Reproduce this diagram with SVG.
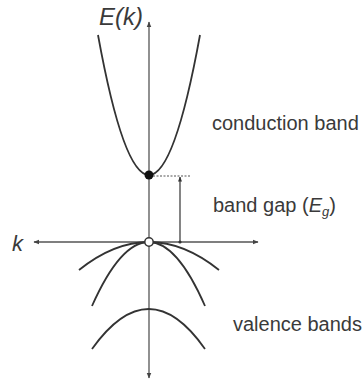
<svg xmlns="http://www.w3.org/2000/svg" width="364" height="380" viewBox="0 0 364 380">
<style>
.ax{stroke:#555;stroke-width:1.3;fill:none}
.band{stroke:#333;stroke-width:1.8;fill:none}
.lbl{font-family:"Liberation Sans",Arial,sans-serif;font-size:20px;fill:#3a3a3a}
.it{font-style:italic}
</style>
<defs>
<marker id="ah" viewBox="0 0 10 10" refX="9" refY="5" markerWidth="6" markerHeight="6" markerUnits="userSpaceOnUse" orient="auto">
<path d="M0,1 L10,5 L0,9 Z" fill="#444"/>
</marker>
<marker id="ahs" viewBox="0 0 10 10" refX="9" refY="5" markerWidth="5" markerHeight="5" markerUnits="userSpaceOnUse" orient="auto">
<path d="M0,1 L10,5 L0,9 Z" fill="#333"/>
</marker>
</defs>
<rect width="364" height="380" fill="#fff"/>
<g id="connectors">
<line class="ax" x1="149" y1="376" x2="149" y2="22" marker-end="url(#ah)"/>
<line class="ax" x1="149" y1="376" x2="149" y2="378" marker-end="url(#ah)"/>
<line class="ax" x1="149" y1="242" x2="258" y2="242" marker-end="url(#ah)"/>
<line class="ax" x1="149" y1="242" x2="34" y2="242" marker-end="url(#ah)"/>
<line x1="153" y1="176" x2="191" y2="176" stroke="#555" stroke-width="1.2" stroke-dasharray="2,1.5"/>
<line x1="180" y1="242" x2="180" y2="177" stroke="#333" stroke-width="1.2" marker-end="url(#ahs)"/>
<circle cx="180" cy="242" r="1.6" fill="#333"/>
</g>
<g id="conduction-band">
<path class="band" d="M98,35 Q149,315 200,35"/>
<circle cx="149" cy="175" r="4.5" fill="#111"/>
<text class="lbl" x="212" y="130">conduction band</text>
</g>
<g id="valence-bands">
<path class="band" d="M79,270 Q149,214 219,270"/>
<path class="band" d="M92,306 Q149,178 205,306"/>
<path class="band" d="M92,349 Q149,269 205,349"/>
<circle cx="149" cy="242" r="4.2" fill="#fff" stroke="#333" stroke-width="1.5"/>
<text class="lbl" x="233" y="331">valence bands</text>
</g>
<g id="band-gap">
<text class="lbl" x="213" y="212">band gap (<tspan class="it">E</tspan><tspan class="it" font-size="13" dy="4">g</tspan><tspan dy="-4">)</tspan></text>
</g>
<g id="axis-labels">
<text class="lbl it" x="99" y="25" style="font-size:24px">E(k)</text>
<text class="lbl it" x="12" y="251" style="font-size:22px">k</text>
</g>
</svg>
